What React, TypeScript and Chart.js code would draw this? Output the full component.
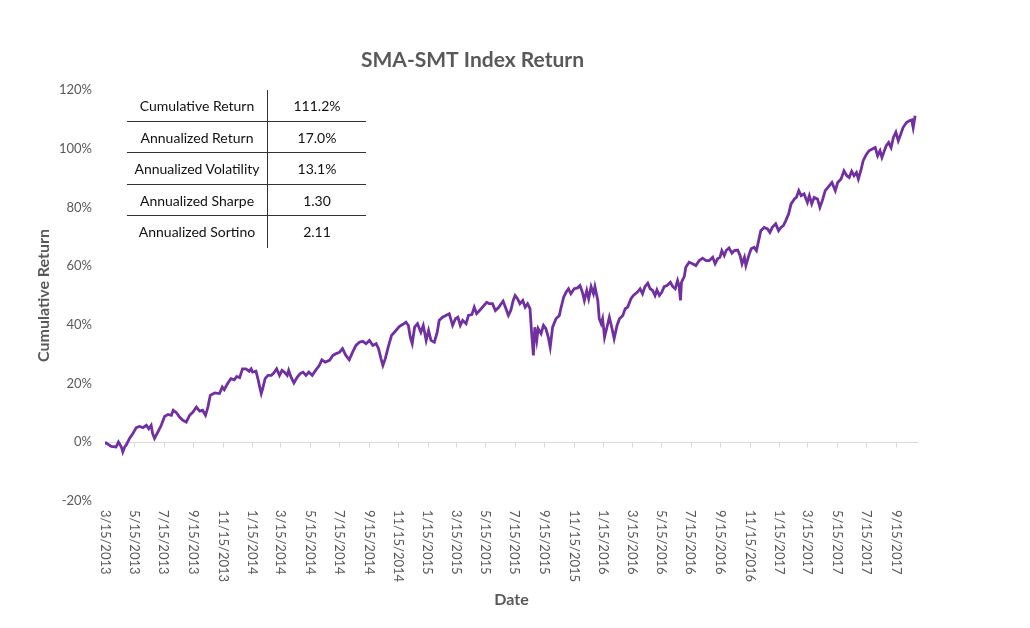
import React, { useEffect, useRef } from "react";
import { Chart, registerables } from "chart.js";

Chart.register(...registerables);

const chartTitle = "SMA-SMT Index Return";
const yAxisTitle = "Cumulative Return";
const xAxisTitle = "Date";
const startDate = "3/15/2013";
const endDate = "10/31/2017";

const tickLabels = [
  "3/15/2013", "5/15/2013", "7/15/2013", "9/15/2013", "11/15/2013",
  "1/15/2014", "3/15/2014", "5/15/2014", "7/15/2014", "9/15/2014", "11/15/2014",
  "1/15/2015", "3/15/2015", "5/15/2015", "7/15/2015", "9/15/2015", "11/15/2015",
  "1/15/2016", "3/15/2016", "5/15/2016", "7/15/2016", "9/15/2016", "11/15/2016",
  "1/15/2017", "3/15/2017", "5/15/2017", "7/15/2017", "9/15/2017",
];

// days elapsed since 3/15/2013
const dayOffsets = [
  0, 13, 23, 28, 34, 37, 41, 44, 51, 58, 65, 72, 79, 86, 91, 96, 99, 103, 110, 117,
  124, 131, 138, 142, 149, 155, 162, 169, 176, 183, 190, 197, 203, 209, 214, 219, 228, 238, 244, 248,
  255, 262, 269, 274, 280, 286, 293, 300,
  304, 307, 314, 318, 321, 325, 328, 333, 339, 346, 351, 357, 363, 368, 373, 379, 382, 387, 393, 400,
  406, 412, 418, 424, 431, 438, 446, 451, 458, 467, 474, 481, 488, 494, 501, 508, 515, 522, 529, 536,
  543, 550, 557, 564, 569, 574, 578, 583, 589, 596, 602,
  612, 619, 626, 631, 635, 639, 644, 650, 657, 662, 668, 673, 678, 685, 691, 695, 702, 709, 716, 723,
  729, 734, 739, 744, 751, 756, 763, 768, 773, 779, 785, 794, 799, 806, 812, 819, 824, 828, 834, 839,
  844, 849, 853, 858, 863, 869, 874, 879, 884, 887, 891, 894, 898,
  901, 907, 912, 917, 922, 926, 931, 938, 945, 948, 954, 959, 964, 969, 976, 983, 988, 993, 997, 1002,
  1006, 1011, 1016, 1019, 1025, 1028, 1032, 1035, 1039, 1044, 1049, 1054, 1059, 1065, 1070, 1077, 1082, 1087, 1094, 1099,
  1107, 1113, 1118, 1123, 1129, 1134, 1139, 1144, 1148, 1153, 1158, 1163, 1169, 1176, 1181, 1186, 1191, 1194, 1197, 1199,
  1205, 1208, 1215, 1222, 1229, 1236, 1243, 1250, 1257, 1264, 1269, 1274, 1279, 1283, 1288, 1292, 1298, 1304, 1309, 1316,
  1321, 1325, 1330, 1333, 1339, 1344, 1350, 1355, 1361, 1364, 1371, 1378, 1383, 1388, 1395, 1401, 1406, 1411, 1416, 1422,
  1427, 1434, 1438, 1443, 1448, 1454, 1461,
  1465, 1470, 1475, 1482, 1487, 1492, 1498, 1505, 1512, 1519, 1524, 1531, 1537, 1543, 1548, 1553, 1558, 1563, 1567, 1572,
  1577, 1583, 1589, 1596, 1602, 1607, 1612, 1616, 1621, 1625, 1630, 1635, 1640, 1645, 1650, 1655, 1660, 1667, 1673, 1678,
  1681, 1685,
];

// cumulative return, percent
const cumulativeReturn = [
  0, -1.4, -1.6, 0.1, -1.6, -3.3, -1.6, -1.0, 1.3, 3.0, 5.0, 5.4, 5.0, 5.8, 4.6, 5.8, 3.0, 1.3, 3.5, 5.8,
  8.8, 9.5, 9.2, 10.9, 10.0, 8.6, 7.5, 6.9, 9.2, 10.3, 12.0, 10.6, 10.9, 9.2, 12.0, 16.0, 16.8, 16.6, 18.8, 17.9,
  20.0, 21.7, 21.3, 22.4, 22.0, 25.0, 25.0, 24.2,
  25.0, 23.9, 24.2, 21.7, 19.4, 16.6, 18.3, 21.7, 22.8, 22.8, 23.6, 25.0, 22.8, 24.5, 23.9, 22.8, 24.5, 22.2, 20.2, 22.2,
  23.4, 23.9, 22.8, 23.9, 22.8, 24.5, 26.2, 28.1, 27.3, 27.9, 29.6, 30.2, 30.7, 31.9, 29.6, 28.1, 30.7, 33.0, 34.1, 34.4,
  33.6, 34.7, 33.0, 33.6, 31.9, 28.5, 26.2, 28.5, 32.4, 36.4, 37.5,
  39.4, 40.1, 40.9, 39.8, 35.8, 33.6, 39.2, 40.4, 37.5, 39.8, 34.7, 38.1, 34.7, 34.1, 37.5, 41.5, 42.6, 43.2, 43.8, 39.8,
  42.1, 42.6, 39.8, 41.5, 40.4, 43.2, 43.5, 46.0, 43.8, 44.9, 46.0, 47.7, 47.2, 47.2, 44.9, 46.0, 47.2, 48.1, 45.5, 43.2,
  44.9, 48.3, 50.0, 48.9, 47.2, 48.3, 46.0, 47.2, 45.5, 38.1, 29.6, 39.2, 34.7,
  38.7, 37.0, 39.8, 38.7, 35.8, 32.4, 39.2, 42.1, 43.2, 45.5, 49.4, 51.1, 52.3, 50.6, 52.3, 52.6, 53.4, 51.1, 48.3, 51.7,
  48.9, 53.0, 50.6, 53.0, 48.3, 42.1, 40.4, 42.1, 35.8, 39.2, 42.6, 39.2, 35.3, 39.8, 42.1, 43.2, 45.5, 46.0, 48.9, 50.0,
  51.1, 52.3, 50.6, 53.0, 54.2, 52.3, 51.7, 50.0, 51.9, 50.0, 51.1, 53.0, 53.4, 54.5, 53.0, 52.3, 55.1, 53.4, 48.3, 54.5,
  56.5, 59.6, 61.3, 60.8, 60.2, 61.9, 62.7, 61.9, 61.9, 63.0, 60.8, 62.5, 63.0, 65.3, 63.6, 65.3, 66.2, 64.4, 65.3, 65.5,
  63.6, 60.8, 63.0, 60.2, 63.6, 65.9, 66.4, 65.3, 69.8, 72.1, 73.2, 72.7, 71.5, 73.2, 74.4, 72.1, 73.2, 73.8, 75.5, 77.8,
  81.2, 82.9, 83.4, 85.7, 84.0, 84.6, 81.7,
  84.0, 81.2, 83.4, 82.9, 80.0, 82.3, 85.7, 87.1, 88.5, 85.7, 88.5, 89.7, 92.5, 90.8, 90.2, 92.3, 90.8, 91.9, 89.7, 92.5,
  95.9, 97.9, 99.3, 99.9, 100.4, 97.6, 99.3, 97.0, 99.3, 101.0, 102.1, 100.4, 103.9, 105.6, 102.7, 104.9, 107.2, 108.9, 109.5, 109.8,
  107.2, 111.2,
];

const statNames = [
  "Cumulative Return",
  "Annualized Return",
  "Annualized Volatility",
  "Annualized Sharpe",
  "Annualized Sortino",
];
const statValues = ["111.2%", "17.0%", "13.1%", "1.30", "2.11"];

const yMin = -20;
const yMax = 120;
const yStep = 20;

const FONT = "Lato, 'Open Sans', sans-serif";
const GRAY = "#595959";

function parseUS(label: string): number {
  const [m, d, y] = label.split("/").map(Number);
  return Date.UTC(y, m - 1, d);
}
function dayOf(label: string): number {
  return Math.round((parseUS(label) - parseUS(startDate)) / 86400000);
}

const decorPlugin = {
  id: "decor",
  beforeDatasetsDraw(chart: any) {
    const { ctx, chartArea, scales } = chart;
    const xs = scales.x;
    const ys = scales.y;
    const y0 = ys.getPixelForValue(0);
    ctx.save();
    ctx.strokeStyle = "#d9d9d9";
    ctx.lineWidth = 1;
    ctx.beginPath();
    ctx.moveTo(chartArea.left, Math.round(y0) + 0.5);
    ctx.lineTo(chartArea.right, Math.round(y0) + 0.5);
    tickLabels.forEach((lab) => {
      const px = Math.round(xs.getPixelForValue(dayOf(lab))) + 0.5;
      ctx.moveTo(px, Math.round(y0) + 0.5);
      ctx.lineTo(px, Math.round(y0) + 5.5);
    });
    ctx.stroke();
    ctx.restore();
  },
  afterDraw(chart: any) {
    const { ctx, chartArea, scales } = chart;
    const xs = scales.x;
    ctx.save();
    ctx.fillStyle = GRAY;
    ctx.font = `13px ${FONT}`;
    ctx.textAlign = "left";
    ctx.textBaseline = "middle";
    tickLabels.forEach((lab) => {
      const px = xs.getPixelForValue(dayOf(lab));
      ctx.save();
      ctx.translate(px, chartArea.bottom + 9);
      ctx.rotate(Math.PI / 2);
      ctx.fillText(lab, 0, 0);
      ctx.restore();
    });
    // titles
    ctx.textAlign = "center";
    ctx.font = `bold 21px ${FONT}`;
    ctx.fillText(chartTitle, 472.5, 60);
    ctx.font = `bold 16px ${FONT}`;
    ctx.fillText(xAxisTitle, (chartArea.left + chartArea.right) / 2, 600);
    ctx.save();
    ctx.translate(44, (chartArea.top + chartArea.bottom) / 2);
    ctx.rotate(-Math.PI / 2);
    ctx.fillText(yAxisTitle, 0, 0);
    ctx.restore();
    ctx.restore();
  },
};

function StatsTable() {
  const rowH = 31.6;
  return (
    <div
      style={{
        position: "absolute",
        left: 127,
        top: 90,
        width: 239,
        fontFamily: FONT,
        fontSize: 14,
        color: "#111",
      }}
    >
      {statNames.map((name, i) => (
        <div
          key={name}
          style={{
            display: "flex",
            height: rowH,
            boxSizing: "border-box",
            borderBottom: i < statNames.length - 1 ? "1.5px solid #333" : "none",
          }}
        >
          <div
            style={{
              width: 141,
              boxSizing: "border-box",
              borderRight: "1.5px solid #333",
              textAlign: "center",
              lineHeight: `${rowH}px`,
              whiteSpace: "nowrap",
            }}
          >
            {name}
          </div>
          <div style={{ flex: 1, textAlign: "center", lineHeight: `${rowH}px` }}>
            {statValues[i]}
          </div>
        </div>
      ))}
    </div>
  );
}

export default function App() {
  const canvasRef = useRef<HTMLCanvasElement>(null);

  useEffect(() => {
    let chart: Chart | null = null;
    let cancelled = false;
    const make = () => {
      if (cancelled || !canvasRef.current) return;
      const points = dayOffsets.map((d, i) => ({ x: d, y: cumulativeReturn[i] }));
      chart = new Chart(canvasRef.current, {
        type: "line",
        data: {
          datasets: [
            {
              data: points,
              borderColor: "#7030A0",
              borderWidth: 2.8,
              pointRadius: 0,
              tension: 0,
              fill: false,
            },
          ],
        },
        options: {
          animation: false,
          responsive: true,
          maintainAspectRatio: false,
          layout: { padding: { left: 8, right: 112, top: 90, bottom: 127 } },
          plugins: { legend: { display: false }, tooltip: { enabled: false }, title: { display: false } },
          scales: {
            x: {
              type: "linear",
              display: false,
              min: 0,
              max: dayOf(endDate),
            },
            y: {
              type: "linear",
              min: yMin,
              max: yMax,
              grid: { display: false, drawTicks: false },
              border: { display: false },
              ticks: {
                stepSize: yStep,
                padding: 13,
                color: GRAY,
                font: { family: FONT, size: 13 },
                callback: (v: any) => `${v}%`,
              },
              afterFit: (s: any) => {
                s.width = 97;
              },
            },
          },
        },
        plugins: [decorPlugin],
      });
    };
    const fontsReady = (document as any).fonts
      ? Promise.all([
          (document as any).fonts.load(`13px Lato`),
          (document as any).fonts.load(`bold 15px Lato`),
        ]).catch(() => null)
      : Promise.resolve(null);
    fontsReady.then(make);
    return () => {
      cancelled = true;
      if (chart) chart.destroy();
    };
  }, []);

  return (
    <div style={{ position: "absolute", left: 0, top: 0, width: 1030, height: 628, background: "#fff" }}>
      <canvas ref={canvasRef} />
      <StatsTable />
    </div>
  );
}
